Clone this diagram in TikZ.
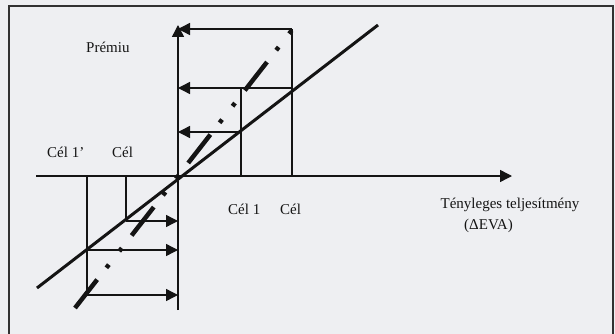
\documentclass[tikz,border=0pt]{standalone}
\usepackage{fontspec}
\setmainfont{Liberation Serif}
\usetikzlibrary{arrows.meta}
\definecolor{bg}{RGB}{238,239,242}
\definecolor{ink}{RGB}{20,20,20}
\definecolor{framec}{RGB}{50,50,50}
\tikzset{
  thinline/.style={draw=ink, line width=1.4pt},
  arr/.style={thinline, -{Triangle[length=12pt,width=12pt]}},
  diag/.style={draw=ink, line width=3pt},
  dashdot/.style={draw=ink, line width=4.5pt, dash pattern=on 36pt off 15pt on 4pt off 17pt on 4pt off 16pt},
  lbl/.style={font=\fontsize{15}{17}\selectfont, text=ink, inner sep=0pt, anchor=base west},
}
\begin{document}
\begin{tikzpicture}[x=1pt,y=-1pt]
\fill[bg] (0,0) rectangle (615,334);
\useasboundingbox (0,0) rectangle (615,334);
\draw[framec, line width=1.6pt] (9,334) -- (9,6) -- (613,6) -- (613,334);
% coordinates
\coordinate (ybot) at (178,310);
\coordinate (ytop) at (178,25);
\coordinate (xl) at (36,176);
\coordinate (xr) at (512,176);
\coordinate (a1) at (292,29);  \coordinate (a1t) at (178,29);
\coordinate (a2) at (292,88);  \coordinate (a2t) at (178,88);
\coordinate (a3) at (241,132); \coordinate (a3t) at (178,132);
\coordinate (v1b) at (292,176);
\coordinate (v2t) at (241,88); \coordinate (v2b) at (241,176);
\coordinate (w1t) at (87,176); \coordinate (w1b) at (87,295);
\coordinate (w2t) at (126,176); \coordinate (w2b) at (126,221);
\coordinate (b1t) at (178,221);
\coordinate (b2) at (87,250); \coordinate (b2t) at (178,250);
\coordinate (b3t) at (178,295);
\coordinate (d0) at (37,288); \coordinate (d1) at (378,25);
\coordinate (e0) at (75,308); \coordinate (e1) at (292,30);
% axes
\draw[arr] (ybot) -- (ytop);
\draw[arr] (xl) -- (xr);
% upper boxes
\draw[thinline] (a1) -- (v1b);
\draw[thinline] (v2t) -- (v2b);
\draw[arr] (a1) -- (a1t);
\draw[arr] (a2) -- (a2t);
\draw[arr] (a3) -- (a3t);
% lower boxes
\draw[thinline] (w1t) -- (w1b);
\draw[thinline] (w2t) -- (w2b);
\draw[arr] (w2b) -- (b1t);
\draw[arr] (b2) -- (b2t);
\draw[arr] (w1b) -- (b3t);
% lines
\draw[diag] (d0) -- (d1);
\draw[dashdot] (e0) -- (e1);
% labels
\node[lbl] (premiu) at (86,53) {Prémiu};
\node[lbl] (cel1p) at (47,157) {Cél 1’};
\node[lbl] (celA) at (112,157) {Cél};
\node[lbl] (cel1) at (228,214) {Cél 1};
\node[lbl] (celB) at (280,214) {Cél};
\node[lbl, anchor=base] (teny) at (510,208) {Tényleges teljesítmény};
\node[lbl, anchor=base] (eva) at (488.5,229) {(ΔEVA)};
\end{tikzpicture}
\end{document}
